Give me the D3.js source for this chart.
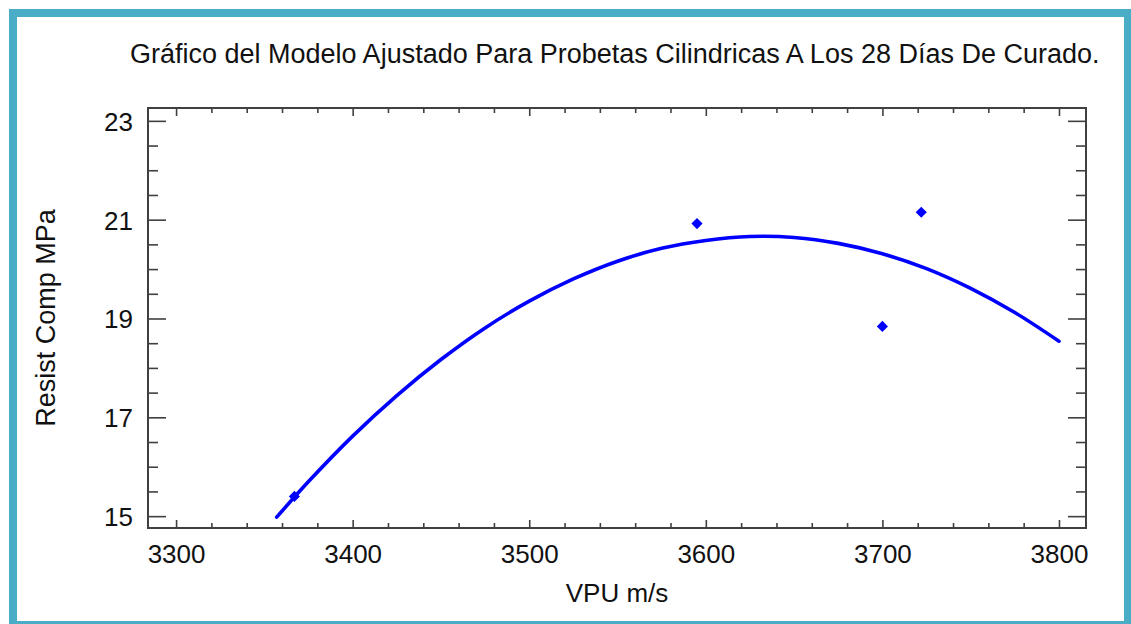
<!DOCTYPE html>
<html>
<head>
<meta charset="utf-8">
<script src="https://cdn.jsdelivr.net/npm/d3@7/dist/d3.min.js"></script>
<style>
  html, body { margin: 0; padding: 0; background: #ffffff; }
  svg { display: block; }
  text { font-family: "Liberation Sans", Arial, sans-serif; fill: #111; }
</style>
</head>
<body>
<svg id="chart" width="1131" height="624"></svg>
<script>
// Observed specimens: pulse velocity (m/s) and compressive strength (MPa)
const obsVPU = [3367, 3595, 3700, 3722];
const obsResist = [15.40, 20.92, 18.84, 21.15];

// Fitted model curve, sampled along the velocity range
const fitVPU = [3357, 3375, 3400, 3425, 3450, 3475, 3500, 3525, 3550, 3575, 3600,
                3625, 3650, 3675, 3700, 3725, 3750, 3775, 3800];
const fitResist = [14.98, 15.70, 16.62, 17.44, 18.17, 18.81, 19.35, 19.80, 20.16, 20.42, 20.58,
                   20.66, 20.64, 20.52, 20.31, 20.01, 19.61, 19.12, 18.54];

// Axis ticks
const xMajorTicks = [3300, 3400, 3500, 3600, 3700, 3800];
const yMajorTicks = [15, 17, 19, 21, 23];

const titleText = "Gráfico del Modelo Ajustado Para Probetas Cilindricas A Los 28 Días De Curado.";
const xTitle = "VPU m/s";
const yTitle = "Resist Comp MPa";

const svg = d3.select("#chart");
const W = 1131, H = 624;

// Frame
svg.append("rect").attr("x", 9).attr("y", 9).attr("width", W - 9).attr("height", H - 9)
  .attr("fill", "#4bacc6");
svg.append("rect").attr("x", 17).attr("y", 17).attr("width", 1124 - 17).attr("height", 621 - 17)
  .attr("fill", "#ffffff");

const plot = { left: 148, top: 108, right: 1086, bottom: 528 };

const x = d3.scaleLinear().domain([3284.1, 3815.3]).range([plot.left, plot.right]);
const y = d3.scaleLinear().domain([14.76, 23.26]).range([plot.bottom, plot.top]);

const axisColor = "#404040";

const xMinor = d3.range(3300, 3801, 20).filter(v => !xMajorTicks.includes(v));
const yMinor = d3.range(15, 23.01, 0.5).filter(v => !yMajorTicks.includes(v));

function styleAxis(g) {
  g.select(".domain").remove();
  g.selectAll(".tick line").attr("stroke", axisColor).attr("stroke-width", 1.6);
  g.selectAll(".tick text").attr("fill", "#111")
    .style("font-family", "'Liberation Sans', Arial, sans-serif").style("font-size", "26px");
}

// Bottom axis (inward ticks)
svg.append("g").attr("transform", `translate(0,${plot.bottom})`)
  .call(d3.axisBottom(x).tickValues(xMajorTicks).tickSize(-8).tickFormat(d3.format("d")))
  .call(styleAxis)
  .call(g => g.selectAll(".tick text").attr("y", 35).attr("dy", 0));
svg.append("g").attr("transform", `translate(0,${plot.bottom})`)
  .call(d3.axisBottom(x).tickValues(xMinor).tickSize(-5).tickFormat(""))
  .call(styleAxis);

// Top axis (mirrored ticks)
svg.append("g").attr("transform", `translate(0,${plot.top})`)
  .call(d3.axisTop(x).tickValues(xMajorTicks).tickSize(-8).tickFormat(""))
  .call(styleAxis);
svg.append("g").attr("transform", `translate(0,${plot.top})`)
  .call(d3.axisTop(x).tickValues(xMinor).tickSize(-5).tickFormat(""))
  .call(styleAxis);

// Left axis
svg.append("g").attr("transform", `translate(${plot.left},0)`)
  .call(d3.axisLeft(y).tickValues(yMajorTicks).tickSize(-18).tickFormat(d3.format("d")))
  .call(styleAxis)
  .call(g => g.selectAll(".tick text").attr("x", -15).attr("dy", "0.36em"));
svg.append("g").attr("transform", `translate(${plot.left},0)`)
  .call(d3.axisLeft(y).tickValues(yMinor).tickSize(-10).tickFormat(""))
  .call(styleAxis);

// Right axis (mirrored ticks)
svg.append("g").attr("transform", `translate(${plot.right},0)`)
  .call(d3.axisRight(y).tickValues(yMajorTicks).tickSize(-18).tickFormat(""))
  .call(styleAxis);
svg.append("g").attr("transform", `translate(${plot.right},0)`)
  .call(d3.axisRight(y).tickValues(yMinor).tickSize(-10).tickFormat(""))
  .call(styleAxis);

// Plot box
svg.append("rect")
  .attr("x", plot.left).attr("y", plot.top)
  .attr("width", plot.right - plot.left).attr("height", plot.bottom - plot.top)
  .attr("fill", "none").attr("stroke", axisColor).attr("stroke-width", 2);

// Fitted curve
const fitData = fitVPU.map((v, i) => [v, fitResist[i]]);
svg.append("path")
  .datum(fitData)
  .attr("fill", "none")
  .attr("stroke", "#0000ff")
  .attr("stroke-width", 3.6)
  .attr("stroke-linecap", "round")
  .attr("d", d3.line().x(d => x(d[0])).y(d => y(d[1])).curve(d3.curveCatmullRom));

// Observed points as diamonds
const diamond = d3.symbol().type(d3.symbolSquare).size(62);
svg.append("g").selectAll("path")
  .data(obsVPU.map((v, i) => [v, obsResist[i]]))
  .join("path")
  .attr("d", diamond)
  .attr("fill", "#0000ff")
  .attr("transform", d => `translate(${x(d[0])},${y(d[1])}) rotate(45)`);

// Titles
svg.append("text")
  .attr("x", 130).attr("y", 63)
  .style("font-size", "27px")
  .text(titleText);

svg.append("text")
  .attr("x", (plot.left + plot.right) / 2).attr("y", 602)
  .attr("text-anchor", "middle")
  .style("font-size", "26px")
  .text(xTitle);

svg.append("text")
  .attr("transform", `translate(55,${(plot.top + plot.bottom) / 2}) rotate(-90)`)
  .attr("text-anchor", "middle")
  .style("font-size", "27px")
  .text(yTitle);
</script>
</body>
</html>
